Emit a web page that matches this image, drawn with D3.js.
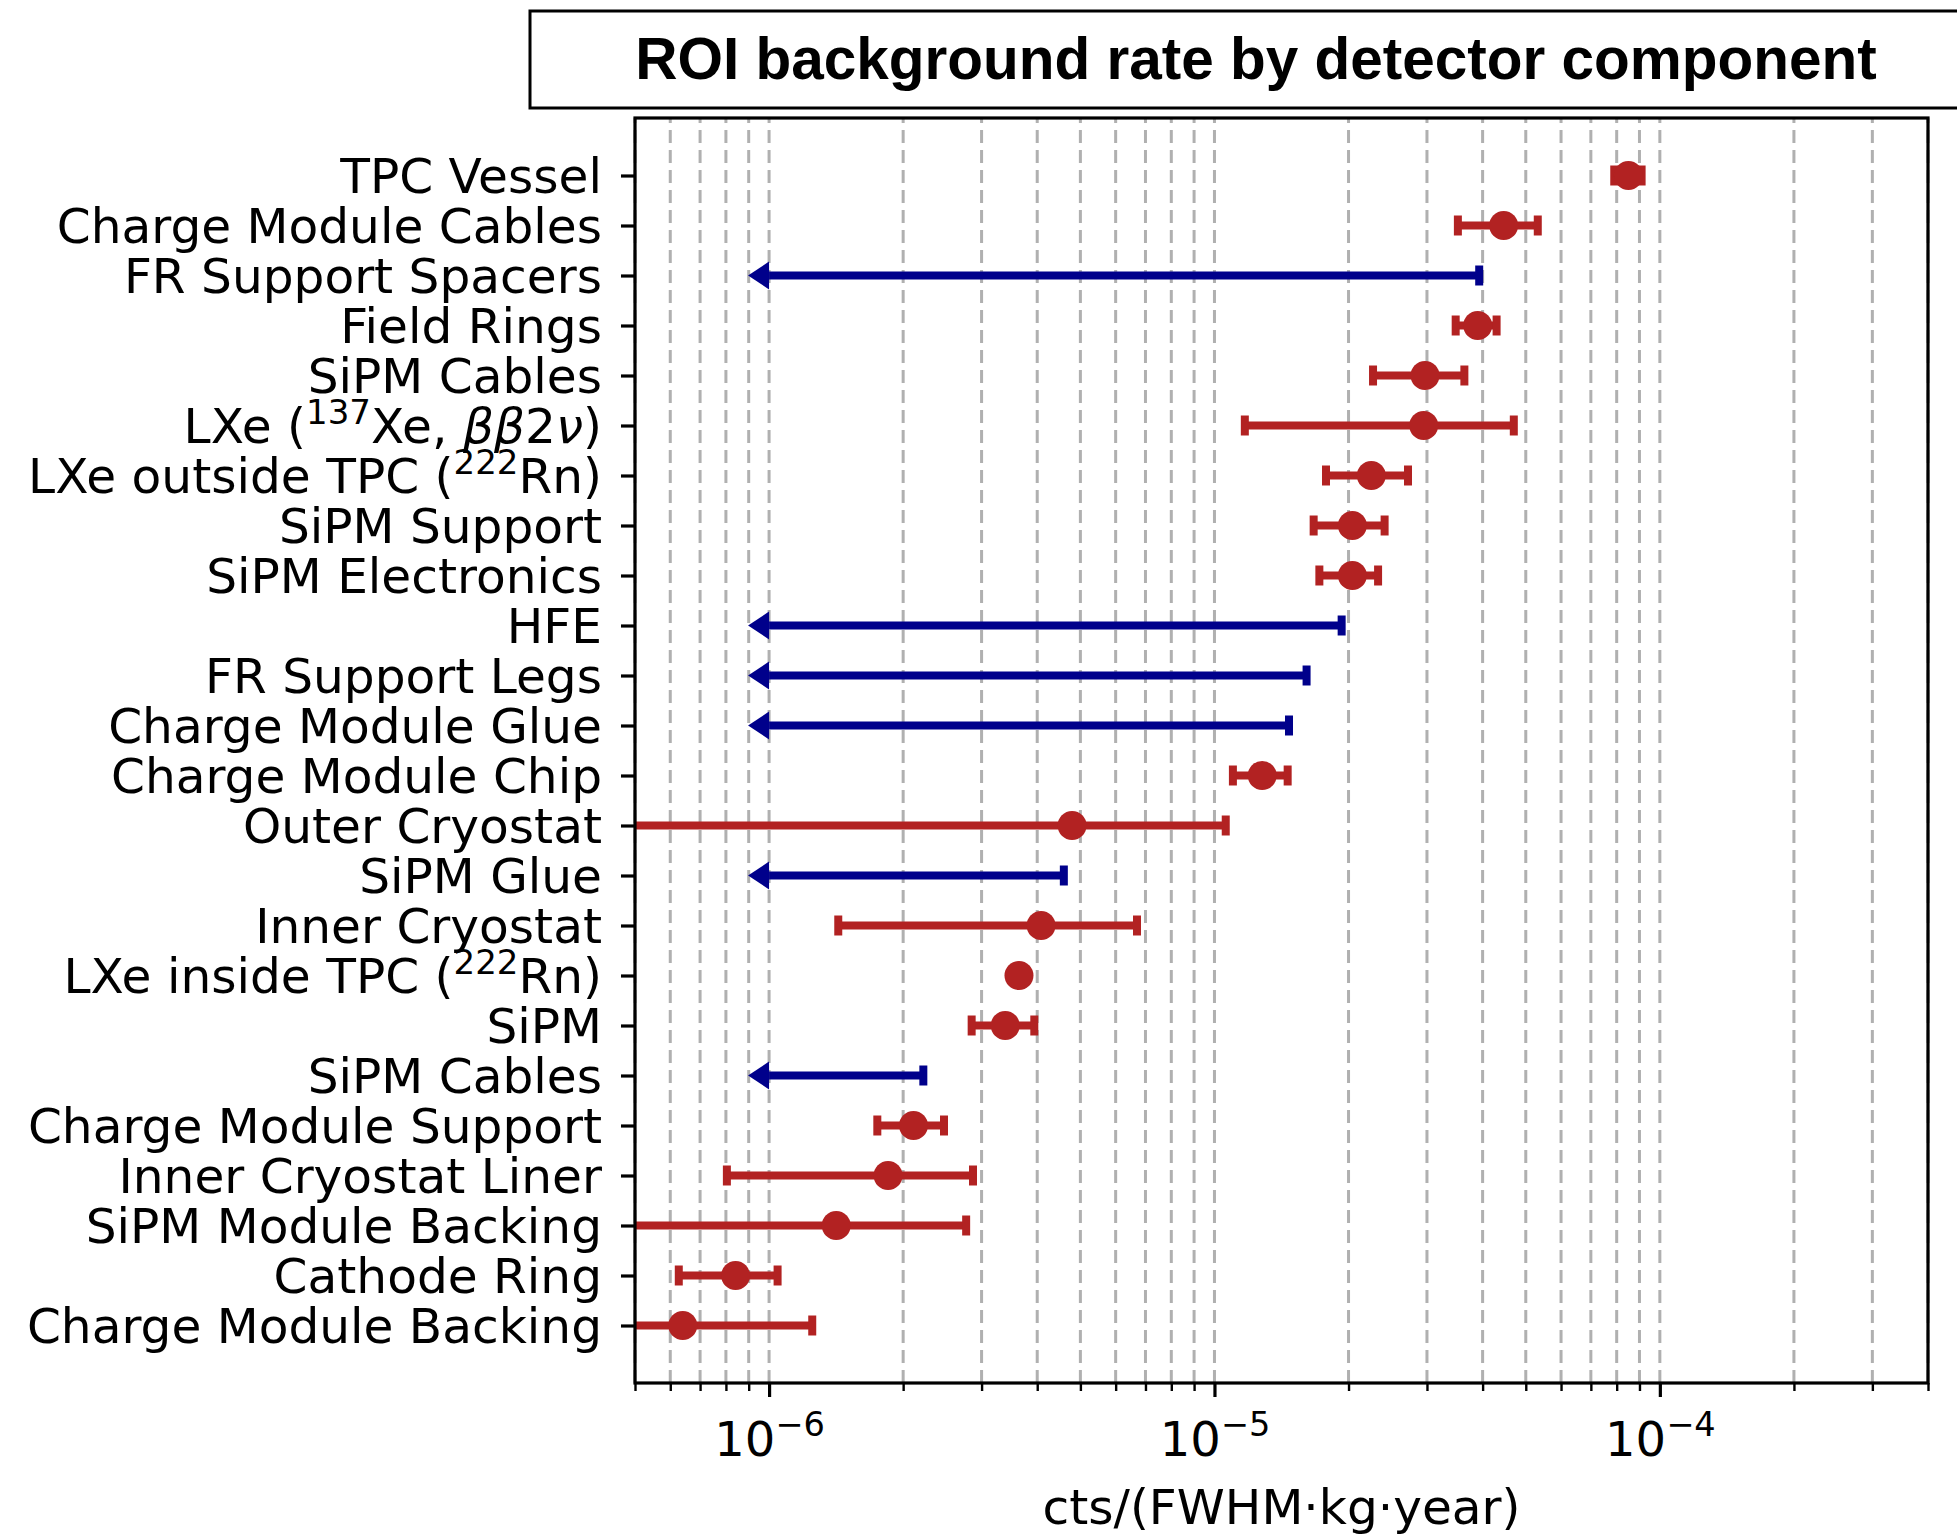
<!DOCTYPE html>
<html>
<head>
<meta charset="utf-8">
<script src="https://cdn.jsdelivr.net/npm/d3@7/dist/d3.min.js"></script>
<style>
  html, body { margin:0; padding:0; background:#ffffff; }
  svg { display:block; }
</style>
</head>
<body>
<svg id="chart" width="1957" height="1539"></svg>
<script>
const titleText = "ROI background rate by detector component";
const xLabelText = "cts/(FWHM·kg·year)";
const categories = [
  "TPC Vessel","Charge Module Cables","FR Support Spacers","Field Rings","SiPM Cables",
  "LXe (^{137}Xe, ββ2ν)","LXe outside TPC (^{222}Rn)","SiPM Support","SiPM Electronics","HFE",
  "FR Support Legs","Charge Module Glue","Charge Module Chip","Outer Cryostat","SiPM Glue",
  "Inner Cryostat","LXe inside TPC (^{222}Rn)","SiPM","SiPM Cables","Charge Module Support",
  "Inner Cryostat Liner","SiPM Module Backing","Cathode Ring","Charge Module Backing"];
const isUpperLimit = [false,false,true,false,false,false,false,false,false,true,true,true,
  false,false,true,false,false,false,true,false,false,false,false,false];
const values = [8.5e-5,4.46e-5,3.93e-5,3.9e-5,2.97e-5,2.95e-5,2.25e-5,2.04e-5,2.04e-5,1.93e-5,
  1.61e-5,1.47e-5,1.28e-5,4.79e-6,4.59e-6,4.08e-6,3.64e-6,3.39e-6,2.22e-6,2.11e-6,
  1.85e-6,1.415e-6,8.41e-7,6.40e-7];
const lowerBounds = [7.9e-5,3.52e-5,null,3.48e-5,2.27e-5,1.17e-5,1.78e-5,1.67e-5,1.72e-5,null,
  null,null,1.10e-5,3e-7,null,1.43e-6,3.64e-6,2.85e-6,null,1.75e-6,
  8.04e-7,3e-7,6.27e-7,3e-7];
const upperBounds = [9.1e-5,5.32e-5,null,4.3e-5,3.64e-5,4.7e-5,2.72e-5,2.41e-5,2.33e-5,null,
  null,null,1.46e-5,1.06e-5,null,6.70e-6,3.64e-6,3.94e-6,null,2.47e-6,
  2.87e-6,2.77e-6,1.045e-6,1.25e-6];
const limitFloor = 1e-6;
const xDomain = [5e-7, 4e-4];
const xMajorTicks = [1e-6, 1e-5, 1e-4];
const xMajorExponents = ["−6", "−5", "−4"];

const RED = "#b22222", BLUE = "#00008b";
const FONT = "'DejaVu Sans', sans-serif";
const LABEL_SIZE = 48.6;
const plot = { left: 635, right: 1928, top: 118, bottom: 1383 };

const svg = d3.select("#chart");
svg.append("rect").attr("width", 1957).attr("height", 1539).attr("fill", "#fff");

const x = d3.scaleLog().domain(xDomain).range([plot.left, plot.right]);
const n = categories.length;
const pad = (n - 1) * 0.05;
const y = d3.scaleLinear().domain([-pad, n - 1 + pad]).range([plot.top, plot.bottom]);

// title box
svg.append("rect").attr("x", 530).attr("y", 11).attr("width", 1452).attr("height", 97)
  .attr("fill", "none").attr("stroke", "#000").attr("stroke-width", 3);
svg.append("text").attr("x", 1256).attr("y", 79).attr("text-anchor", "middle")
  .attr("font-family", "'Liberation Sans', Arial, sans-serif").attr("font-weight", "bold")
  .attr("font-size", 58.5).attr("fill", "#000").text(titleText);

// clip
svg.append("clipPath").attr("id", "clip").append("rect")
  .attr("x", plot.left).attr("y", plot.top)
  .attr("width", plot.right - plot.left).attr("height", plot.bottom - plot.top);

// grid
const allTicks = x.ticks();
svg.append("g").selectAll("line").data(allTicks).join("line")
  .attr("x1", d => x(d)).attr("x2", d => x(d))
  .attr("y1", plot.bottom).attr("y2", plot.top)
  .attr("stroke", "#b0b0b0").attr("stroke-width", 3)
  .attr("stroke-dasharray", "13,7");

// marks
const marks = svg.append("g").attr("clip-path", "url(#clip)");
const idx = d3.range(n);
const meas = idx.filter(i => !isUpperLimit[i]);
const lims = idx.filter(i => isUpperLimit[i]);

marks.append("g").selectAll("line").data(meas).join("line")
  .attr("x1", i => x(lowerBounds[i])).attr("x2", i => x(upperBounds[i]))
  .attr("y1", i => y(i)).attr("y2", i => y(i))
  .attr("stroke", RED).attr("stroke-width", 8);
const capData = [];
meas.forEach(i => { capData.push([i, lowerBounds[i]]); capData.push([i, upperBounds[i]]); });
marks.append("g").selectAll("line").data(capData).join("line")
  .attr("x1", d => x(d[1])).attr("x2", d => x(d[1]))
  .attr("y1", d => y(d[0]) - 10).attr("y2", d => y(d[0]) + 10)
  .attr("stroke", RED).attr("stroke-width", 8);
marks.append("g").selectAll("circle").data(meas).join("circle")
  .attr("cx", i => x(values[i])).attr("cy", i => y(i)).attr("r", 14.5)
  .attr("fill", RED);

marks.append("g").selectAll("line").data(lims).join("line")
  .attr("x1", x(limitFloor)).attr("x2", i => x(values[i]))
  .attr("y1", i => y(i)).attr("y2", i => y(i))
  .attr("stroke", BLUE).attr("stroke-width", 8);
marks.append("g").selectAll("line").data(lims).join("line")
  .attr("x1", i => x(values[i])).attr("x2", i => x(values[i]))
  .attr("y1", i => y(i) - 10).attr("y2", i => y(i) + 10)
  .attr("stroke", BLUE).attr("stroke-width", 8);
marks.append("g").selectAll("path").data(lims).join("path")
  .attr("d", i => {
    const bx = x(limitFloor), cy = y(i);
    return `M${bx},${cy - 14}L${bx},${cy + 14}L${bx - 21},${cy}Z`;
  })
  .attr("fill", BLUE);

// axes frame
svg.append("rect").attr("x", plot.left).attr("y", plot.top)
  .attr("width", plot.right - plot.left).attr("height", plot.bottom - plot.top)
  .attr("fill", "none").attr("stroke", "#000").attr("stroke-width", 3.2);

// x axis minor ticks
const minorAxis = svg.append("g").attr("transform", `translate(0,${plot.bottom})`)
  .call(d3.axisBottom(x).tickValues(allTicks.filter(t => !xMajorTicks.some(m => Math.abs(m - t) / m < 1e-9))).tickSize(8).tickFormat(() => ""));
minorAxis.select(".domain").remove();
minorAxis.selectAll(".tick line").attr("stroke", "#000").attr("stroke-width", 2.4);
minorAxis.selectAll(".tick text").remove();

const majorAxis = svg.append("g").attr("transform", `translate(0,${plot.bottom})`)
  .call(d3.axisBottom(x).tickValues(xMajorTicks).tickSize(14).tickFormat(() => ""));
majorAxis.select(".domain").remove();
majorAxis.selectAll(".tick line").attr("stroke", "#000").attr("stroke-width", 3.2);
majorAxis.selectAll(".tick text").remove();
majorAxis.selectAll(".tick").each(function(d, k) {
  const t = d3.select(this).append("text")
    .attr("x", 0).attr("y", 73).attr("text-anchor", "middle")
    .attr("font-family", FONT).attr("font-size", 48).attr("fill", "#000");
  t.append("tspan").text("10");
  t.append("tspan").attr("font-size", 33.6).attr("dy", -20).text(xMajorExponents[k]);
});

// x label
svg.append("text").attr("x", (plot.left + plot.right) / 2).attr("y", 1524)
  .attr("text-anchor", "middle").attr("font-family", FONT).attr("font-size", 48.6)
  .attr("fill", "#000").text(xLabelText);

// y axis
const yAxis = svg.append("g").attr("transform", `translate(${plot.left},0)`)
  .call(d3.axisLeft(y).tickValues(idx).tickSize(14).tickFormat(() => ""));
yAxis.select(".domain").remove();
yAxis.selectAll(".tick line").attr("stroke", "#000").attr("stroke-width", 3.2);
yAxis.selectAll(".tick text").remove();

function richText(sel, str, size) {
  const parts = str.split(/(\^\{[^}]*\}|[βν]+)/).filter(s => s.length);
  let raised = false;
  parts.forEach(p => {
    const t = sel.append("tspan");
    if (p.startsWith("^{")) {
      t.text(p.slice(2, -1)).attr("font-size", size * 0.7);
      if (!raised) t.attr("dy", -19);
      raised = true;
    } else {
      if (raised) { t.attr("dy", 19); raised = false; }
      t.text(p);
      if (/[βν]/.test(p)) t.attr("font-style", "italic");
    }
  });
}
yAxis.selectAll(".tick").each(function(i) {
  const t = d3.select(this).append("text")
    .attr("x", -33).attr("y", 17).attr("text-anchor", "end")
    .attr("font-family", FONT).attr("font-size", LABEL_SIZE).attr("fill", "#000");
  richText(t, categories[i], LABEL_SIZE);
});
</script>
</body>
</html>
